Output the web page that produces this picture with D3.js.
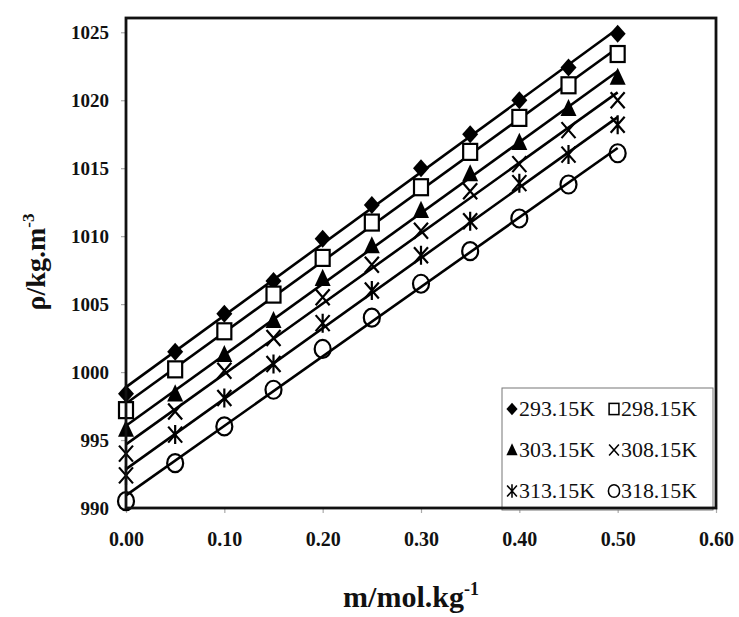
<!DOCTYPE html>
<html><head><meta charset="utf-8">
<script src="https://cdn.jsdelivr.net/npm/d3@7"></script>
<style>body{margin:0;background:#fff}</style>
</head><body>
<svg id="c" width="739" height="617"></svg>
<script>
const molality = [0, 0.05, 0.10, 0.15, 0.20, 0.25, 0.30, 0.35, 0.40, 0.45, 0.50];
const d29315 = [998.4, 1001.5, 1004.3, 1006.7, 1009.8, 1012.3, 1015.0, 1017.5, 1020.0, 1022.4, 1024.9];
const d29815 = [997.2, 1000.2, 1003.0, 1005.7, 1008.4, 1011.0, 1013.6, 1016.2, 1018.7, 1021.1, 1023.4];
const d30315 = [995.8, 998.4, 1001.3, 1003.8, 1006.9, 1009.3, 1011.9, 1014.6, 1016.9, 1019.4, 1021.7];
const d30815 = [994.0, 997.1, 1000.1, 1002.5, 1005.5, 1007.9, 1010.4, 1013.3, 1015.3, 1017.8, 1020.0];
const d31315 = [992.4, 995.4, 998.1, 1000.6, 1003.6, 1006.0, 1008.6, 1011.1, 1013.9, 1016.0, 1018.2];
const d31815 = [990.5, 993.3, 996.0, 998.7, 1001.7, 1004.0, 1006.5, 1008.9, 1011.3, 1013.8, 1016.1];
const seriesNames = ["293.15K", "298.15K", "303.15K", "308.15K", "313.15K", "318.15K"];
const markerTypes = ["diamond", "square", "triangle", "cross", "asterisk", "circle"];
const xTicks = [0, 0.1, 0.2, 0.3, 0.4, 0.5, 0.6];
const yTicks = [990, 995, 1000, 1005, 1010, 1015, 1020, 1025];

const series = [d29315, d29815, d30315, d30815, d31315, d31815].map((v, i) => ({
  name: seriesNames[i], type: markerTypes[i], values: v
}));

const L = 126, R = 716, T = 18, B = 508;
const x = d3.scaleLinear().domain([0, 0.6]).range([L, R]);
const y = d3.scaleLinear().domain([990, 1026.05]).range([B, T]);
const svg = d3.select("#c");
const serif = "'Liberation Serif', 'Times New Roman', serif";

// axes ticks
const xAxis = d3.axisBottom(x).tickValues(xTicks).tickSize(5).tickFormat(d3.format(".2f"));
const gx = svg.append("g").attr("transform", `translate(0,${B})`).call(xAxis);
gx.select(".domain").remove();
gx.selectAll(".tick line").attr("stroke", "#aaa").attr("stroke-width", 1.2);
gx.selectAll(".tick text").attr("font-family", serif).attr("font-weight", "bold")
  .attr("font-size", 20).attr("fill", "#111").attr("y", 24).attr("dy", "0.71em");

const yAxis = d3.axisLeft(y).tickValues(yTicks).tickSize(5).tickFormat(d3.format("d"));
const gy = svg.append("g").attr("transform", `translate(${L},0)`).call(yAxis);
gy.select(".domain").remove();
gy.selectAll(".tick line").attr("stroke", "#aaa").attr("stroke-width", 1.2);
gy.selectAll(".tick text").attr("font-family", serif).attr("font-weight", "bold")
  .attr("font-size", 19).attr("fill", "#111").attr("x", -17);

// legend box
const lg = svg.append("g");
lg.append("rect").attr("x", 502).attr("y", 388).attr("width", 211).attr("height", 122)
  .attr("fill", "#fff").attr("stroke", "#777").attr("stroke-width", 1);

// fitted lines
function fit(xs, ys) {
  const mx = d3.mean(xs), my = d3.mean(ys);
  const b = d3.sum(xs, (d, i) => (d - mx) * (ys[i] - my)) / d3.sum(xs, d => (d - mx) * (d - mx));
  return [b, my - b * mx];
}
const plot = svg.append("g");
series.forEach(s => {
  const [b, a] = fit(molality, s.values);
  const x0 = molality[0], x1 = molality[molality.length - 1];
  plot.append("line").attr("x1", x(x0)).attr("y1", y(a + b * x0))
    .attr("x2", x(x1)).attr("y2", y(a + b * x1))
    .attr("stroke", "#000").attr("stroke-width", 2.6);
});

function drawMarker(g, type, cx, cy, k) {
  const sw = 2.2 * k;
  if (type === "diamond") {
    const w = 8 * k, h = 9 * k;
    g.append("path").attr("d", `M${cx},${cy - h}L${cx + w},${cy}L${cx},${cy + h}L${cx - w},${cy}Z`).attr("fill", "#000");
  } else if (type === "square") {
    const w = 7 * k, h = 8 * k;
    g.append("rect").attr("x", cx - w).attr("y", cy - h).attr("width", 2 * w).attr("height", 2 * h)
      .attr("fill", "#fff").attr("stroke", "#000").attr("stroke-width", sw);
  } else if (type === "triangle") {
    const w = 8 * k, h = 9.5 * k;
    g.append("path").attr("d", `M${cx},${cy - h}L${cx + w},${cy + h * 0.8}L${cx - w},${cy + h * 0.8}Z`).attr("fill", "#000");
  } else if (type === "cross") {
    const w = 7 * k, h = 8 * k;
    g.append("path").attr("d", `M${cx - w},${cy - h}L${cx + w},${cy + h}M${cx - w},${cy + h}L${cx + w},${cy - h}`)
      .attr("stroke", "#000").attr("stroke-width", sw).attr("fill", "none");
  } else if (type === "asterisk") {
    const w = 7 * k, h = 8 * k, v = 9.5 * k;
    g.append("path").attr("d", `M${cx - w},${cy - h}L${cx + w},${cy + h}M${cx - w},${cy + h}L${cx + w},${cy - h}M${cx},${cy - v}L${cx},${cy + v}`)
      .attr("stroke", "#000").attr("stroke-width", sw).attr("fill", "none");
  } else if (type === "circle") {
    g.append("ellipse").attr("cx", cx).attr("cy", cy).attr("rx", 8 * k).attr("ry", 9 * k)
      .attr("fill", "none").attr("stroke", "#000").attr("stroke-width", sw);
  }
}

series.forEach(s => {
  const g = plot.append("g");
  s.values.forEach((v, i) => drawMarker(g, s.type, x(molality[i]), y(v), 1));
});

// frame
svg.append("rect").attr("x", L).attr("y", T).attr("width", R - L).attr("height", B - T)
  .attr("fill", "none").attr("stroke", "#111").attr("stroke-width", 2.8);

// legend entries
const colX = [512, 614], rowY = [409, 450, 491];
series.forEach((s, i) => {
  const cx = colX[i % 2], cy = rowY[Math.floor(i / 2)];
  drawMarker(lg, s.type, cx, cy, 0.7);
  lg.append("text").attr("x", cx + 7).attr("y", cy + 7).text(s.name)
    .attr("font-family", serif).attr("font-size", 21).attr("fill", "#111")
    .attr("textLength", 76).attr("lengthAdjust", "spacingAndGlyphs");
});

// axis titles
const yt = svg.append("text").attr("transform", "translate(45,262) rotate(-90)")
  .attr("text-anchor", "middle").attr("font-family", serif).attr("font-weight", "bold")
  .attr("font-size", 28).attr("fill", "#111");
yt.append("tspan").text("ρ/kg.m");
yt.append("tspan").text("-3").attr("font-size", 17).attr("dy", -11);

const xt = svg.append("text").attr("x", 411).attr("y", 607)
  .attr("text-anchor", "middle").attr("font-family", serif).attr("font-weight", "bold")
  .attr("font-size", 30).attr("fill", "#111");
xt.append("tspan").text("m/mol.kg");
xt.append("tspan").text("-1").attr("font-size", 18).attr("dy", -12);
</script>
</body></html>
